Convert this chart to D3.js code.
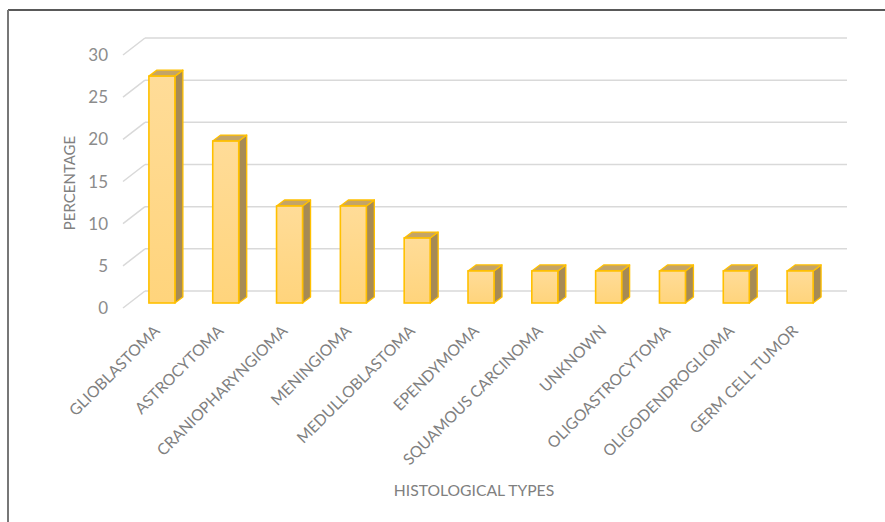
<!DOCTYPE html>
<html>
<head>
<meta charset="utf-8">
<script src="https://cdn.jsdelivr.net/npm/d3@7/dist/d3.min.js"></script>
<style>
  html, body { margin: 0; padding: 0; background: #fff; }
  svg { display: block; }
  text { font-family: Lato, "Open Sans", sans-serif; }
</style>
</head>
<body>
<svg id="chart" width="885" height="522"></svg>
<script>
// Histological types and their share of cases (%)
const categories = [
  "GLIOBLASTOMA", "ASTROCYTOMA", "CRANIOPHARYNGIOMA", "MENINGIOMA",
  "MEDULLOBLASTOMA", "EPENDYMOMA", "SQUAMOUS CARCINOMA", "UNKNOWN",
  "OLIGOASTROCYTOMA", "OLIGODENDROGLIOMA", "GERM CELL TUMOR"
];
const percentages = [26.9, 19.2, 11.5, 11.5, 7.7, 3.8, 3.8, 3.8, 3.8, 3.8, 3.8];
const yTicks = [0, 5, 10, 15, 20, 25, 30];
const yTitle = "PERCENTAGE";
const xTitle = "HISTOLOGICAL TYPES";

const svg = d3.select("#chart");

// Frame of the chart area
svg.append("line").attr("x1", 8).attr("y1", 10).attr("x2", 885).attr("y2", 10)
  .attr("stroke", "#222").attr("stroke-width", 1.5);
svg.append("line").attr("x1", 8).attr("y1", 10).attr("x2", 8).attr("y2", 522)
  .attr("stroke", "#777").attr("stroke-width", 2);

// Scales on the back wall of the 3D plot
const x = d3.scaleBand().domain(categories).range([145, 847]).padding(0);
const y = d3.scaleLinear().domain([0, 30]).range([291, 38]);

// Floor depth (back wall -> front edge) and bar depth
const floorDx = -22, floorDy = 17;
const barW = 26, depthDx = 8, depthDy = -6;
const faceDx = -15, faceDy = 12; // bar front face relative to back wall

const grid = svg.append("g");
yTicks.forEach(t => {
  grid.append("line")
    .attr("x1", x.range()[0]).attr("x2", x.range()[1])
    .attr("y1", y(t)).attr("y2", y(t))
    .attr("stroke", "#d9d9d9").attr("stroke-width", 1.5);
  grid.append("line")
    .attr("x1", x.range()[0] + floorDx).attr("y1", y(t) + floorDy)
    .attr("x2", x.range()[0]).attr("y2", y(t))
    .attr("stroke", "#d9d9d9").attr("stroke-width", 1.5);
});

// Y axis labels
svg.append("g").selectAll("text").data(yTicks).join("text")
  .attr("x", 108).attr("y", d => y(d) + floorDy)
  .attr("dy", "0.36em")
  .attr("text-anchor", "end")
  .attr("fill", "#8c8c8c")
  .attr("font-size", 17)
  .text(d => d);

// Bar gradients
const defs = svg.append("defs");
const grad = defs.append("linearGradient").attr("id", "face")
  .attr("x1", 0).attr("y1", 0).attr("x2", 0).attr("y2", 1);
grad.append("stop").attr("offset", "0%").attr("stop-color", "#ffdc98");
grad.append("stop").attr("offset", "100%").attr("stop-color", "#ffd47c");

// 3D bars
const bars = svg.append("g").selectAll("g").data(categories).join("g");
bars.each(function(c, i) {
  const g = d3.select(this);
  const xl = x(c) + x.bandwidth() / 2 - barW / 2 + faceDx;
  const xr = xl + barW;
  const yb = y(0) + faceDy;
  const yt = y(percentages[i]) + faceDy;
  // side
  g.append("path")
    .attr("d", `M${xr},${yb} L${xr + depthDx},${yb + depthDy} L${xr + depthDx},${yt + depthDy} L${xr},${yt} Z`)
    .attr("fill", "#a68a55").attr("stroke", "#ffc000").attr("stroke-width", 1.3)
    .attr("stroke-linejoin", "round");
  // top
  g.append("path")
    .attr("d", `M${xl},${yt} L${xl + depthDx},${yt + depthDy} L${xr + depthDx},${yt + depthDy} L${xr},${yt} Z`)
    .attr("fill", "#c4a466").attr("stroke", "#ffc000").attr("stroke-width", 1.3)
    .attr("stroke-linejoin", "round");
  // front
  g.append("rect")
    .attr("x", xl).attr("y", yt).attr("width", barW).attr("height", yb - yt)
    .attr("fill", "url(#face)").attr("stroke", "#ffc000").attr("stroke-width", 1.6);
});

// Category labels, rotated
svg.append("g").selectAll("text").data(categories).join("text")
  .attr("transform", c => {
    const cx = x(c) + x.bandwidth() / 2 + faceDx - 5;
    return `translate(${cx},${328}) rotate(-45)`;
  })
  .attr("text-anchor", "end")
  .attr("dy", "0.35em")
  .attr("fill", "#808080")
  .attr("font-size", 15.7)
  .text(c => c);

// Axis titles
svg.append("text")
  .attr("transform", "translate(70,183) rotate(-90)")
  .attr("text-anchor", "middle").attr("dy", "0.35em")
  .attr("fill", "#808080").attr("font-size", 15)
  .text(yTitle);

svg.append("text")
  .attr("x", 474).attr("y", 491)
  .attr("text-anchor", "middle").attr("dy", "0.35em")
  .attr("fill", "#808080").attr("font-size", 15.7)
  .text(xTitle);
</script>
</body>
</html>
